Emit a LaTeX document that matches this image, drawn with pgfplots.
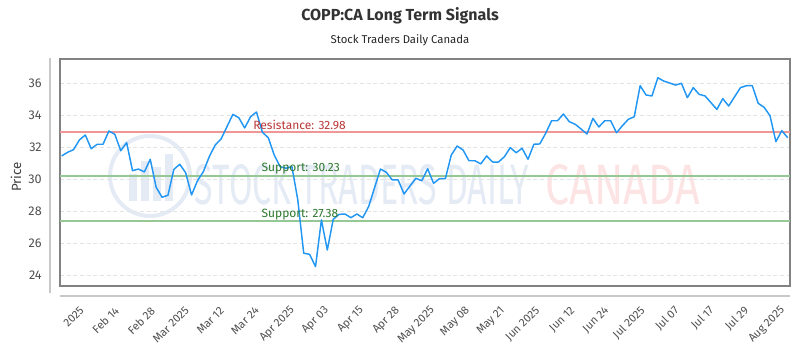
\documentclass[border=0pt]{standalone}
\usepackage{pgfplots}
\pgfplotsset{compat=1.18}
\usepackage{graphicx}
\usepackage{fontspec}
\setmainfont{Fira Sans}
\setsansfont{Fira Sans}
\definecolor{lineblue}{RGB}{33,150,243}
\definecolor{resline}{RGB}{240,150,150}
\definecolor{supline}{RGB}{150,200,150}
\definecolor{restext}{RGB}{185,55,55}
\definecolor{suptext}{RGB}{45,120,45}
\definecolor{framegray}{RGB}{130,130,130}
\definecolor{axgray}{RGB}{200,200,200}
\definecolor{ticktext}{RGB}{80,80,80}
\definecolor{wmblue}{RGB}{228,235,245}
\definecolor{wmred}{RGB}{253,228,228}
\begin{document}
\begin{tikzpicture}
\path[use as bounding box] (0pt,0pt) rectangle (600pt,262.5pt);
% watermark
\draw[wmblue, line width=3pt] (112.5pt,130.5pt) circle (30pt);
\fill[wmblue] (97pt,112pt) rectangle (103pt,132pt);
\fill[wmblue] (106pt,112pt) rectangle (112pt,142pt);
\fill[wmblue] (115pt,112pt) rectangle (121pt,137pt);
\fill[wmblue] (124pt,112pt) rectangle (130pt,147pt);
\node[anchor=base west, inner sep=0pt, text=wmblue] at (146pt,109pt) {\resizebox{251pt}{30pt}{\sffamily STOCK TRADERS DAILY}};
\node[anchor=base west, inner sep=0pt, text=wmred] at (409pt,109pt) {\resizebox{116pt}{30pt}{\sffamily CANADA}};
\begin{axis}[
  at={(45pt,48pt)}, anchor=south west,
  scale only axis, width=547.5pt, height=170.25pt,
  xmin=-0.29, xmax=123.39, ymin=23.33, ymax=37.52,
  axis line style={framegray, line width=0.8pt},
  ytick={24,26,28,30,32,34,36},
  ymajorgrids, grid style={densely dashed, gray!22, line width=0.5pt},
  major tick length=0pt,
  /pgf/number format/assume math mode=true,
  yticklabel style={font=\fontsize{9.5}{11}\selectfont, text=ticktext, anchor=east, inner sep=0pt, xshift=-13.5pt},
  xtick={3.78,9.71,15.81,21.57,27.50,33.43,39.53,45.29,51.22,57.32,63.25,69.18,75.11,81.04,86.97,92.73,98.83,104.59,110.52,116.45,122.55},
  xticklabels={2025,Feb 14,Feb 28,Mar 2025,Mar 12,Mar 24,Apr 2025,Apr 03,Apr 15,Apr 28,May 2025,May 08,May 21,Jun 2025,Jun 12,Jun 24,Jul 2025,Jul 07,Jul 17,Jul 29,Aug 2025},
  xticklabel style={font=\fontsize{8.5}{10}\selectfont, text=ticktext, yshift=-17pt, xshift=-1.5pt, rotate=45, anchor=east, inner sep=0pt},
  clip=false,
]
\addplot[resline, line width=1.5pt, forget plot] coordinates {(-0.29,32.98) (123.39,32.98)};
\addplot[supline, line width=1.5pt, forget plot] coordinates {(-0.29,30.23) (123.39,30.23)};
\addplot[supline, line width=1.5pt, forget plot] coordinates {(-0.29,27.38) (123.39,27.38)};
\addplot[lineblue, line width=1.1pt, line join=round, mark=none] coordinates {
(0,31.46) (1,31.69) (2,31.85) (3,32.46) (4,32.77) (5,31.91) (6,32.19) (7,32.19) (8,33.02) (9,32.81)
(10,31.79) (11,32.29) (12,30.54) (13,30.64) (14,30.46) (15,31.25) (16,29.50) (17,28.88) (18,29.00) (19,30.62)
(20,30.94) (21,30.41) (22,29.02) (23,29.91) (24,30.48) (25,31.41) (26,32.14) (27,32.52) (28,33.29) (29,34.06)
(30,33.85) (31,33.21) (32,33.91) (33,34.21) (34,32.94) (35,32.60) (36,31.52) (37,30.79) (38,30.69) (39,30.79)
(40,28.71) (41,25.38) (42,25.31) (43,24.54) (44,27.46) (45,25.58) (46,27.50) (47,27.81) (48,27.83) (49,27.60)
(50,27.83) (51,27.60) (52,28.29) (53,29.47) (54,30.64) (55,30.44) (56,29.96) (57,29.96) (58,29.08) (59,29.58)
(60,30.06) (61,29.91) (62,30.66) (63,29.75) (64,30.04) (65,30.04) (66,31.52) (67,32.08) (68,31.83) (69,31.16)
(70,31.16) (71,30.96) (72,31.46) (73,31.08) (74,31.08) (75,31.41) (76,31.98) (77,31.66) (78,31.94) (79,31.25)
(80,32.19) (81,32.21) (82,32.88) (83,33.66) (84,33.66) (85,34.08) (86,33.60) (87,33.44) (88,33.14) (89,32.83)
(90,33.81) (91,33.27) (92,33.66) (93,33.66) (94,32.91) (95,33.35) (96,33.75) (97,33.91) (98,35.85) (99,35.27)
(100,35.21) (101,36.35) (102,36.14) (103,36.02) (104,35.89) (105,36.00) (106,35.10) (107,35.73) (108,35.31) (109,35.21)
(110,34.79) (111,34.37) (112,35.04) (113,34.58) (114,35.16) (115,35.73) (116,35.85) (117,35.85) (118,34.75) (119,34.50)
(120,33.98) (121,32.35) (122,33.04) (123,32.60)
};
\node[anchor=south west, inner sep=1pt, text=restext, font=\fontsize{9}{10}\selectfont] at (axis cs:32.2,32.98) {Resistance: 32.98};
\node[anchor=south west, inner sep=1pt, text=suptext, font=\fontsize{9}{10}\selectfont] at (axis cs:33.6,30.23) {Support: 30.23};
\node[anchor=south west, inner sep=1pt, text=suptext, font=\fontsize{9}{10}\selectfont] at (axis cs:33.6,27.38) {Support: 27.38};
\end{axis}
\draw[axgray, line width=0.8pt] (37.5pt,42.75pt) -- (37.5pt,219pt);
\draw[axgray, line width=0.8pt] (45pt,40.5pt) -- (592.5pt,40.5pt);
\node[font=\bfseries\fontsize{12}{14}\selectfont, text=black!80] at (300pt,250.5pt) {COPP:CA Long Term Signals};
\node[font=\fontsize{8.5}{10}\selectfont, text=black!85] at (300pt,232.5pt) {Stock Traders Daily Canada};
\node[font=\fontsize{10}{12}\selectfont, text=black!75, rotate=90] at (12pt,129.75pt) {Price};
\end{tikzpicture}
\end{document}
